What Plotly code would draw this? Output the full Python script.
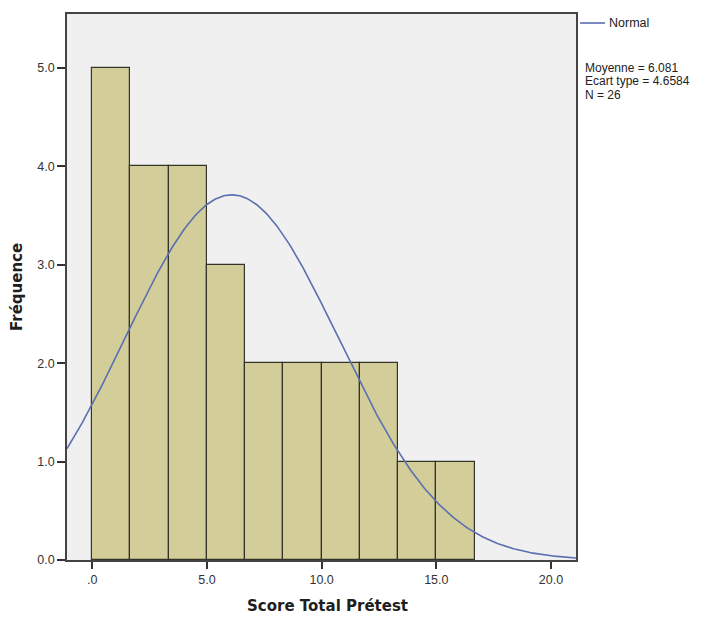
import numpy as np
import plotly.graph_objects as go

# Histogram of pre-test total scores
bin_lower = [0.0, 1.667, 3.333, 5.0, 6.667, 8.333, 10.0, 11.667, 13.333, 15.0]
bin_width = 1.667
counts = [5, 4, 4, 3, 2, 2, 2, 2, 1, 1]

# Summary statistics
mean = 6.081
std_dev = 4.6584
n_obs = 26

x_ticks = [0, 5, 10, 15, 20]
x_tick_labels = [".0", "5.0", "10.0", "15.0", "20.0"]
y_ticks = [0, 1, 2, 3, 4, 5]
y_tick_labels = ["0.0", "1.0", "2.0", "3.0", "4.0", "5.0"]

x_range = [-1.10, 21.09]
y_range = [0, 5.55]

centers = [b + bin_width / 2 for b in bin_lower]

# Normal curve scaled to counts
xs = np.linspace(x_range[0], x_range[1], 400)
ys = n_obs * bin_width / (std_dev * np.sqrt(2 * np.pi)) * np.exp(-0.5 * ((xs - mean) / std_dev) ** 2)

curve_color = "#5B6FB0"
tick_font = dict(family="Liberation Sans, Arial, sans-serif", size=12.5, color="#333333")
title_font = dict(family="DejaVu Sans, Verdana, sans-serif", size=15, color="#1E1E1E")

fig = go.Figure()
fig.add_trace(go.Bar(
    x=centers, y=counts, width=bin_width,
    marker=dict(color="#D3CE99", line=dict(color="#35342A", width=1.2)),
    showlegend=False, hoverinfo="skip",
))
fig.add_trace(go.Scatter(
    x=xs, y=ys, mode="lines",
    line=dict(color=curve_color, width=1.6),
    showlegend=False, hoverinfo="skip",
))

fig.update_layout(
    width=705, height=617,
    margin=dict(l=67, r=129, t=14, b=57),
    paper_bgcolor="white",
    plot_bgcolor="#F0F0F0",
    bargap=0,
    font=tick_font,
    xaxis=dict(
        range=x_range, tickmode="array", tickvals=x_ticks, ticktext=x_tick_labels,
        ticks="outside", ticklen=7, tickwidth=1.5, tickcolor="#333333",
        showline=True, linecolor="#444444", linewidth=1.5, mirror=True,
        showgrid=False, zeroline=False, automargin=False,
        tickfont=tick_font,
    ),
    yaxis=dict(
        range=y_range, tickmode="array", tickvals=y_ticks, ticktext=y_tick_labels,
        ticks="outside", ticklen=8, tickwidth=1.5, tickcolor="#333333",
        showline=True, linecolor="#444444", linewidth=1.5, mirror=True,
        showgrid=False, zeroline=False, automargin=False,
        tickfont=tick_font,
    ),
)

# Axis titles
fig.add_annotation(xref="paper", yref="paper", x=0.511, y=-0.0842,
                   xanchor="center", yanchor="middle", showarrow=False,
                   text="<b>Score Total Prétest</b>", font=title_font)
fig.add_annotation(xref="paper", yref="paper", x=-0.0982, y=0.5,
                   xanchor="center", yanchor="middle", showarrow=False, textangle=-90,
                   text="<b>Fréquence</b>", font=title_font)

# Legend entry for the normal curve
legend_font = dict(family="Liberation Sans, Arial, sans-serif", size=12.5, color="#222222")
fig.add_shape(type="line", xref="paper", yref="paper",
              x0=1.008, x1=1.057, y0=0.9835, y1=0.9835,
              line=dict(color=curve_color, width=1.6))
fig.add_annotation(xref="paper", yref="paper", x=1.061, y=0.9835, xanchor="left", yanchor="middle",
                   text="Normal", showarrow=False, font=legend_font)

# Statistics block, one annotation per line
stats_font = dict(family="Liberation Sans, Arial, sans-serif", size=12, color="#222222")
stats_lines = [f"Moyenne = {mean}", f"Ecart type = {std_dev}", f"N = {n_obs}"]
stats_y = [0.902, 0.877, 0.852]
for line, yy in zip(stats_lines, stats_y):
    fig.add_annotation(xref="paper", yref="paper", x=1.016, y=yy, xanchor="left", yanchor="middle",
                       text=line, showarrow=False, font=stats_font, borderpad=0)

fig.write_html("out.html")
